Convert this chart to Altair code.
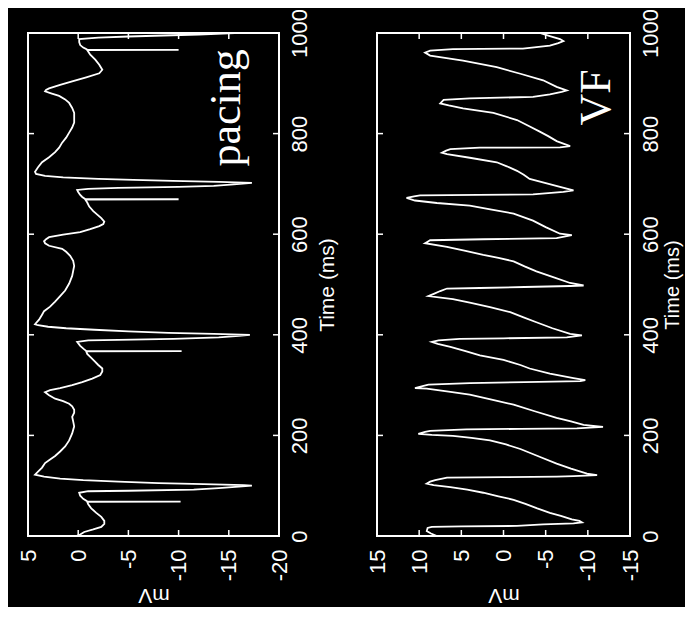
import altair as alt
import pandas as pd

# ---------------- data ----------------
PACING_T = [0, 3, 8, 13, 18, 24, 30, 38, 46, 55, 63, 68, 68.5, 69, 74, 80, 86, 89, 90, 92, 95, 98, 100,
            101, 103, 105, 108, 111, 114, 118, 122, 128, 136, 145, 152, 159, 168, 178, 190, 204, 218, 228,
            237, 245, 251, 258, 263, 268, 273, 280, 286, 290, 294, 300, 306, 313, 320, 327, 333, 340, 348,
            356, 362, 367, 367.5, 368, 371, 378, 386, 389, 390, 392, 395, 398, 400, 402, 404, 407, 410, 413,
            416, 419, 421, 430, 440, 447, 456, 466, 477, 488, 502, 517, 527, 537, 547, 557, 565, 571, 577,
            582, 586, 590, 594, 599, 604, 610, 616, 620, 625, 632, 639, 646, 655, 663, 669, 669.5, 670, 674,
            678, 684, 688, 690, 692, 694, 696, 699, 702, 704, 706, 708, 710, 713, 716, 720, 724, 733, 743,
            753, 763, 772, 782, 792, 802, 812, 822, 831, 841, 851, 861, 868, 875, 880, 884, 887, 890, 897,
            904, 912, 920, 927, 937, 947, 957, 966, 966.5, 967, 971, 976, 982, 988, 991, 993, 995, 997, 1000]
PACING_MV = [0.2, -0.2, -0.6, -1.5, -2.3, -2.6, -2.6, -2.3, -1.8, -1.3, -1.0, -0.9, -10.2, -0.9, -0.5, -0.2,
             -0.1, -1.0, -5.0, -11.5, -14.0, -16.0, -17.3, -16.5, -12.5, -8.0, -4.0, -0.5, 1.8, 3.4, 4.3, 4.0,
             3.6, 3.3, 2.8, 2.3, 1.8, 1.3, 0.9, 0.6, 0.4, 0.5, 0.6, 0.4, 0.4, 0.6, 0.9, 1.5, 2.3, 2.9, 3.3,
             2.8, 1.8, 0.6, -0.4, -1.4, -2.2, -2.4, -2.4, -2.0, -1.6, -1.2, -0.9, -0.8, -10.3, -0.8, -0.6,
             -0.2, 0.1, -1.0, -4.0, -9.5, -14.0, -16.0, -17.1, -13.5, -9.0, -5.0, -1.6, 1.2, 3.0, 4.0, 4.3,
             3.9, 3.6, 3.4, 2.8, 2.3, 1.8, 1.3, 0.9, 0.6, 0.5, 0.4, 0.5, 0.8, 1.2, 1.6, 2.9, 3.3, 3.4, 3.2,
             2.9, 1.5, -0.2, -1.2, -2.1, -2.5, -2.6, -2.3, -1.9, -1.5, -1.1, -0.9, -0.7, -10.0, -0.7, -0.4,
             -0.2, 0.0, 0.1, -1.0, -4.0, -10.0, -13.5, -15.5, -17.3, -14.0, -9.4, -5.5, -2.0, 1.5, 3.3, 4.2,
             4.3, 4.0, 3.6, 2.9, 2.3, 1.9, 1.6, 1.2, 0.9, 0.6, 0.4, 0.4, 0.4, 0.6, 0.9, 1.3, 1.9, 2.7, 3.3,
             3.2, 2.9, 1.8, 0.6, -0.8, -2.1, -2.4, -2.1, -1.7, -1.2, -0.9, -10.0, -0.9, -0.5, -0.2, -0.1,
             -0.1, -2.0, -5.0, -8.5, -12.0, -15.6]

VF_T = [0, 5, 10, 16, 18, 19, 20, 23, 25, 27, 30, 33, 40, 46, 55, 64, 72, 79, 86, 92, 97, 101, 104, 108,
        111, 116, 117, 118, 119, 121, 124, 134, 144, 158, 173, 182, 190, 195, 199, 201, 203, 207, 209, 212,
        213, 214, 217, 221, 228, 235, 248, 261, 271, 281, 287, 293, 294, 298, 301, 304, 306, 308, 310, 314,
        323, 333, 340, 350, 359, 368, 376, 382, 386, 389, 392, 393, 395, 399, 402, 413, 425, 435, 445, 455,
        464, 471, 477, 482, 487, 492, 493, 495, 497, 498, 503, 515, 526, 536, 546, 553, 559, 567, 575, 582,
        585, 588, 590, 592, 598, 601, 614, 627, 641, 649, 657, 662, 667, 672, 675, 677, 678, 679, 684, 687,
        694, 702, 710, 718, 726, 735, 743, 752, 759, 762, 766, 769, 772, 772.5, 775, 785, 795, 804, 815, 827,
        841, 850, 856, 860, 867, 870, 873, 878, 883, 886, 893, 906, 919, 932, 945, 955, 961, 965, 968, 969,
        975, 980, 984, 988, 994, 1000]
VF_MV = [7.9, 8.6, 9.1, 9.0, 8.5, 5.0, -1.6, -4.7, -8.3, -9.3, -9.0, -8.1, -6.8, -5.5, -4.0, -2.6, -1.2, 0.6,
         2.4, 4.3, 6.3, 8.3, 9.1, 8.7, 8.1, 6.7, 0.0, -6.3, -8.3, -11.1, -9.9, -8.0, -6.3, -4.2, -2.0, -0.3,
         1.6, 3.8, 6.0, 8.5, 10.1, 9.3, 8.7, 4.4, -2.0, -8.7, -11.8, -9.5, -8.0, -6.3, -3.7, -1.2, 1.4, 4.0,
         6.5, 9.1, 10.5, 9.6, 8.9, 4.0, -2.5, -9.1, -9.7, -8.3, -5.5, -3.1, -2.0, 0.0, 2.8, 4.6, 6.3, 7.8,
         8.5, 7.7, 5.2, 0.0, -7.5, -9.3, -7.9, -5.8, -3.9, -2.3, -0.8, 1.6, 4.0, 6.0, 8.9, 8.2, 7.5, 6.7,
         2.8, -2.5, -7.9, -9.5, -7.9, -5.8, -3.9, -2.5, -1.2, 0.6, 2.4, 4.5, 6.7, 9.3, 9.0, 8.7, 2.4, -6.3,
         -8.1, -6.7, -5.0, -3.5, -1.2, 1.4, 4.0, 7.9, 10.5, 11.5, 10.6, 9.9, 3.0, -3.5, -7.1, -8.3, -6.7,
         -4.9, -3.1, -2.4, -1.6, -0.4, 0.8, 4.0, 6.7, 7.3, 6.8, 6.3, 2.8, -6.7, -7.9, -6.3, -5.3, -4.3,
         -3.0, -1.6, 1.2, 4.8, 6.5, 7.5, 7.1, 4.0, -3.5, -5.5, -6.9, -7.5, -6.3, -4.7, -2.0, 0.8, 4.8, 8.7,
         9.3, 8.7, 6.0, -2.3, -5.5, -6.5, -7.1, -6.7, -5.5, -4.3]

PACING_MV_TICKS = [5, 0, -5, -10, -15, -20]
VF_MV_TICKS = [15, 10, 5, 0, -5, -10, -15]
TIME_TICKS = [0, 200, 400, 600, 800, 1000]

FONT = "Liberation Sans"
SERIF = "Liberation Serif"
TICK_LEN = 6


def panel(t, mv, domain, mv_ticks, name, name_mv, name_t, w, h, t_title_pad, t_title_size):
    df = pd.DataFrame({"t": t, "mv": mv, "i": list(range(len(t)))})
    xs = alt.Scale(domain=domain, reverse=True, nice=False, zero=False)
    ys = alt.Scale(domain=[0, 1000], nice=False, zero=False)
    xa = alt.Axis(values=mv_ticks, title="mV", labelAngle=270, labelAlign="right",
                  labelBaseline="middle", labelPadding=13, labelExpr="'' + datum.value",
                  titleAngle=180, titleBaseline="bottom", titlePadding=4)
    ya = alt.Axis(orient="right", values=TIME_TICKS, title="Time (ms)", labelAngle=270,
                  labelAlign="center", labelBaseline="top", labelPadding=10,
                  labelExpr="'' + datum.value", titleFontSize=t_title_size,
                  titleAngle=270, titleBaseline="top", titlePadding=t_title_pad)

    line = alt.Chart(df).mark_line(color="white", strokeWidth=1.8).encode(
        x=alt.X("mv:Q", scale=xs, axis=xa),
        y=alt.Y("t:Q", scale=ys, axis=ya),
        order="i:Q",
    )

    mdf = pd.DataFrame({"mv": mv_ticks})
    tdf = pd.DataFrame({"t": TIME_TICKS})
    top_t = alt.Chart(mdf).mark_rule(color="white", strokeWidth=1.5).encode(
        x=alt.X("mv:Q", scale=xs, axis=xa), y=alt.value(0), y2=alt.value(TICK_LEN))
    bot_t = alt.Chart(mdf).mark_rule(color="white", strokeWidth=1.5).encode(
        x=alt.X("mv:Q", scale=xs, axis=xa), y=alt.value(h - TICK_LEN), y2=alt.value(h))
    left_t = alt.Chart(tdf).mark_rule(color="white", strokeWidth=1.5).encode(
        y=alt.Y("t:Q", scale=ys, axis=ya), x=alt.value(0), x2=alt.value(TICK_LEN))
    right_t = alt.Chart(tdf).mark_rule(color="white", strokeWidth=1.5).encode(
        y=alt.Y("t:Q", scale=ys, axis=ya), x=alt.value(w - TICK_LEN), x2=alt.value(w))

    label = alt.Chart(pd.DataFrame({"n": [name]})).mark_text(
        color="white", font=SERIF, fontSize=44, angle=270, align="center",
        baseline="alphabetic").encode(
        x=alt.datum(name_mv, scale=xs, axis=xa), y=alt.datum(name_t, scale=ys, axis=ya),
        text="n:N")

    return alt.layer(line, top_t, bot_t, left_t, right_t, label).properties(width=w, height=h)


p1 = panel(PACING_T, PACING_MV, [-20, 5], PACING_MV_TICKS, "pacing", -16.1, 851, 251, 503, 6, 21)
p2 = panel(VF_T, VF_MV, [-15, 15], VF_MV_TICKS, "VF", -12.6, 872, 253, 503, 1, 20)

chart = alt.hconcat(p1, p2, spacing=27).properties(
    background="black",
    padding={"left": 8, "top": -1, "right": 2, "bottom": 0},
).configure_view(stroke="white", strokeWidth=2).configure_axis(
    labelColor="white", titleColor="white", labelFont=FONT, titleFont=FONT,
    labelFontSize=22, titleFontSize=21, titleFontWeight="normal",
    domain=False, ticks=False, grid=False,
)

chart.save("out.html", embed_options={"renderer": "svg", "actions": False})
